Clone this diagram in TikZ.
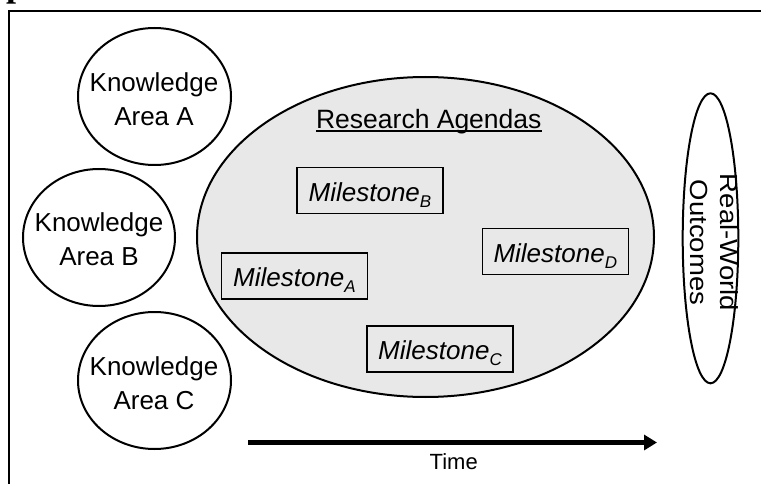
\documentclass[tikz,border=0pt]{standalone}
\usepackage{fontspec}
\setmainfont{Liberation Sans}
\newfontfamily\serifbold{Liberation Serif}
\usetikzlibrary{shapes.geometric,arrows.meta}
\definecolor{agfill}{RGB}{232,232,232}
\begin{document}
\begin{tikzpicture}[x=1pt,y=-1pt,
  kcirc/.style={ellipse, draw, line width=2pt, inner sep=0pt, minimum width=153pt, minimum height=137pt},
  ktext/.style={inner sep=0pt, align=center, font=\fontsize{26}{34}\selectfont},
  mbox/.style={draw, line width=1.5pt, inner sep=0pt, minimum width=146pt, text height=34pt, text depth=12pt, font=\fontsize{26}{30}\selectfont\itshape},
]
\useasboundingbox (0,0) rectangle (761,484);
% frame and cropped title fragment
\begin{scope}
\clip (0,0) rectangle (761,484);
\node[anchor=base west, inner sep=0pt, font=\fontsize{36}{36}\serifbold\bfseries] (ptitle) at (6,-3.5) {p};
\draw[line width=2.5pt] (9,495) -- (9,10.8) -- (775,10.8);
\end{scope}
% knowledge areas
\node[kcirc] (ka) at (154.5,96.5) {};
\node[ktext] (kat) at (154,99) {Knowledge\\Area A};
\node[kcirc, minimum width=152pt] (kb) at (99,237.5) {};
\node[ktext] (kbt) at (99,239) {Knowledge\\Area B};
\node[kcirc] (kc) at (154.5,380.5) {};
\node[ktext] (kct) at (154,383) {Knowledge\\Area C};
% research agendas
\node[ellipse, draw, line width=2pt, fill=agfill, inner sep=0pt, minimum width=457pt, minimum height=320pt] (ra) at (425.5,237) {};
\node[anchor=base, inner sep=0pt, font=\fontsize{26.5}{30}\selectfont] (rat) at (428.8,128.3) {Research Agendas};
\draw[line width=1.8pt] ([yshift=-2.6pt]rat.base west) -- ([yshift=-2.6pt]rat.base east);
\node[mbox] (mb) at (370,190.5) {Milestone\raisebox{-6pt}{\fontsize{17}{17}\selectfont B}};
\node[mbox] (ma) at (294.5,275.9) {Milestone\raisebox{-6pt}{\fontsize{17}{17}\selectfont A}};
\node[mbox] (md) at (555.3,251.5) {Milestone\raisebox{-6pt}{\fontsize{17}{17}\selectfont D}};
\node[mbox] (mc) at (440,348.9) {Milestone\raisebox{-6pt}{\fontsize{17}{17}\selectfont C}};
% real-world outcomes
\node[ellipse, draw, line width=2pt, inner sep=0pt, minimum width=55.6pt, minimum height=290pt] (rw) at (710.5,238.3) {};
\node[rotate=-90, inner sep=0pt, font=\fontsize{27.5}{33}\selectfont] (rwt) at (711.5,242.5)
  {\scalebox{1}[0.9]{\begin{tabular}{@{}c@{}}Real-World\\Outcomes\end{tabular}}};
% time arrow
\coordinate (ts) at (248,442.5);
\coordinate (te) at (657,442.5);
\draw[line width=5pt, -{Triangle[length=13pt,width=15pt]}] (ts) -- (te);
\node[inner sep=0pt, font=\fontsize{22}{26}\selectfont] (time) at (453.7,461.7) {Time};
\end{tikzpicture}
\end{document}
